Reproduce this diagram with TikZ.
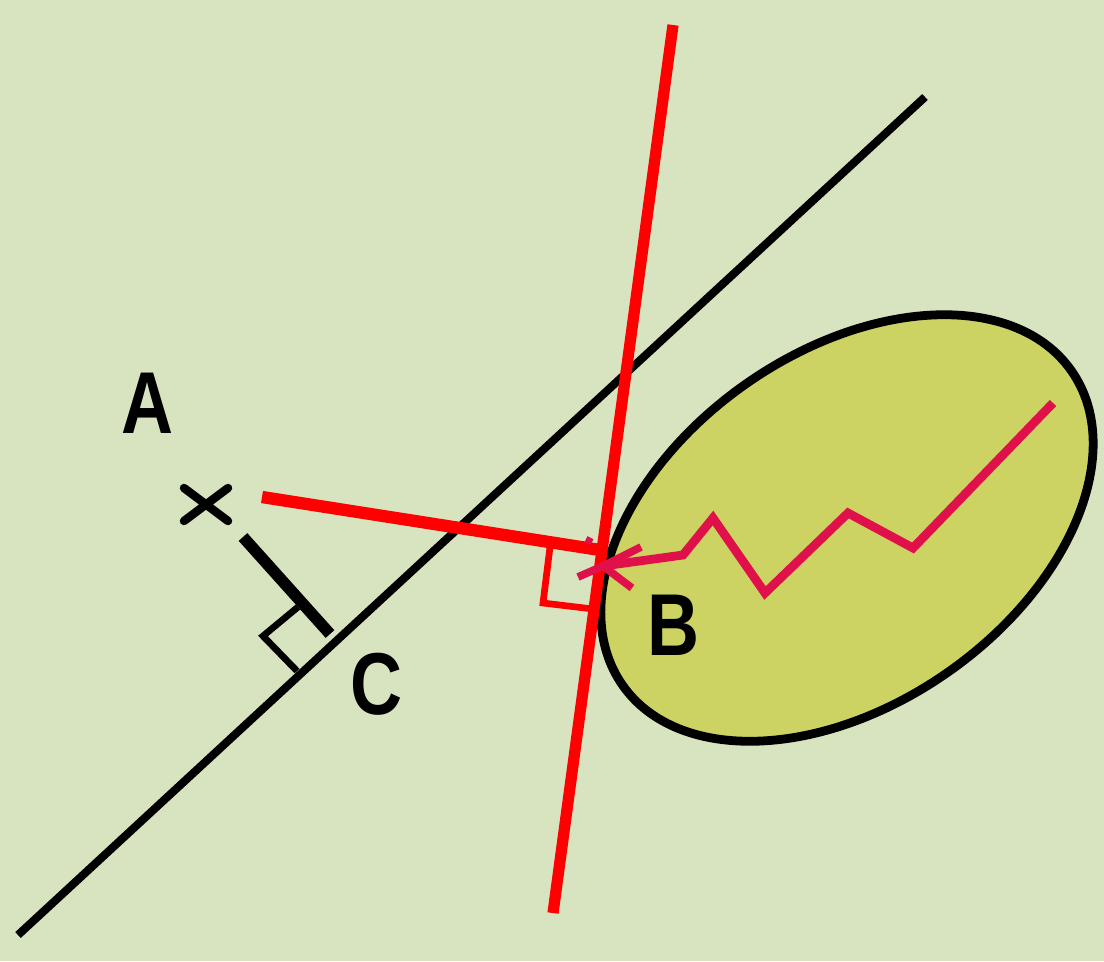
\documentclass[tikz,border=0pt]{standalone}
\usepackage{fontspec}
\setmainfont{Liberation Sans}
\definecolor{bg}{HTML}{D8E4BF}
\definecolor{ellfill}{HTML}{CDD363}
\definecolor{zigc}{HTML}{E0104A}
\definecolor{redc}{HTML}{FF0000}
\begin{document}
\begin{tikzpicture}[x=0.02cm,y=-0.02cm,
  blackline/.style={draw=black,line width=4.6pt},
  redline/.style={draw=redc,line width=6.4pt},
  marker/.style={line width=3.8pt},
  zigline/.style={draw=zigc,line width=5pt,line join=miter},
  lbl/.style={font=\fontsize{50}{50}\selectfont\bfseries,xscale=0.82,inner sep=0pt}]
\fill[bg] (0,0) rectangle (1104,961);
\useasboundingbox (0,0) rectangle (1104,961);
% coordinates
\coordinate (L1) at (18,935);
\coordinate (L2) at (925,97);
\coordinate (R1) at (673,25);
\coordinate (R2) at (553,913);
\coordinate (Aend) at (262,497);
\coordinate (Bpt) at (600,550);
\coordinate (P1) at (243,537);
\coordinate (P2) at (330,634);
% long black line
\draw[blackline] (L1) -- (L2);
% ellipse
\draw[line width=5pt,fill=ellfill,rotate around={35:(847,528)}] (847,528) ellipse [x radius=274, y radius=176];
% red long line
\draw[redline] (R1) -- (R2);
% red line from A to B
\draw[redline,line width=7pt] (Aend) -- (Bpt);
% red right angle marker
\draw[draw=redc,marker] (550,547) -- (543,603) -- (593,609);
% black perpendicular from A
\draw[black,line width=6.6pt] (P1) -- (P2);
\draw[black,marker] (298,607) -- (263,636) -- (297,671);
% cross at A
\node[inner sep=0pt,minimum size=0pt] (X) at (206,504) {};
\draw[black,line width=4.8pt,line cap=round] (184,488) -- (228,521) (184,521) -- (228,488);
% zigzag arrow
\coordinate (Z0) at (1053,403);
\coordinate (Tip) at (603,566);
\draw[zigline] (Z0) -- (913,548) -- (848,513) -- (765,593) -- (713,518) -- (683,555) -- (Tip);
\draw[zigline,line width=4.4pt] (641,547) -- (Tip) -- (632,588);
\draw[zigline,line width=4.4pt] (Tip) -- (578,577);
\draw[zigline,line width=3.6pt] (592,542) -- (586,539);
% labels
\node[lbl] (A) at (148,403) {A};
\node[lbl] (B) at (673,625) {B};
\node[lbl] (C) at (377,684) {C};
\end{tikzpicture}
\end{document}
